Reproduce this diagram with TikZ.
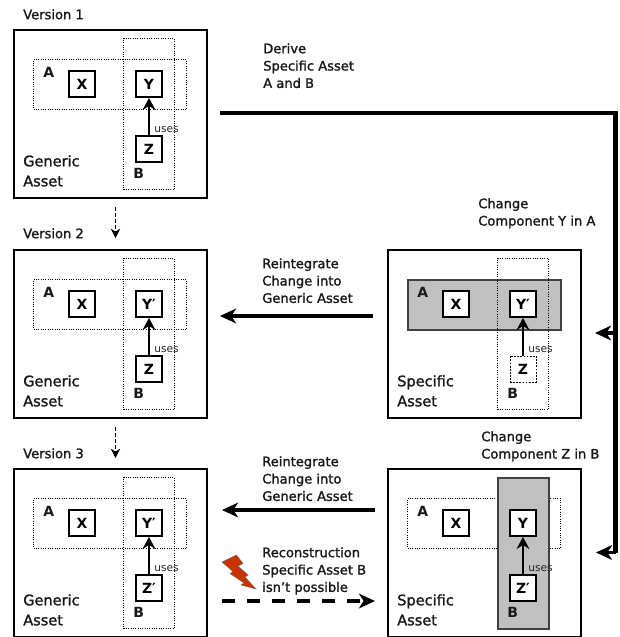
\documentclass[tikz,border=0pt]{standalone}
\usepackage{fontspec}
\setmainfont{DejaVu Sans}
\newfontfamily\medfont[FakeBold=1.5]{DejaVu Sans}
\usetikzlibrary{arrows.meta}
\definecolor{panelgray}{RGB}{192,192,192}
\definecolor{boltred}{RGB}{204,51,0}
\tikzset{
 x=0.75pt,y=-0.75pt,
 txt/.style={font=\medfont\fontsize{9.8}{13}\selectfont,align=left,anchor=north west,inner sep=0pt,text=black!90},
 wordtxt/.style={txt,font=\medfont\fontsize{10.9}{15}\selectfont},
 lettertxt/.style={txt,font=\bfseries\fontsize{10.5}{13}\selectfont},
 smalltxt/.style={font=\fontsize{8}{9}\selectfont,anchor=west,inner sep=0pt,text=black!85},
 panelbox/.style={draw=black,line width=1.5pt,anchor=north west,minimum width=144.75pt,minimum height=126pt,inner sep=0pt},
 dotbox/.style={draw=black,densely dotted,line width=0.75pt},
 greybox/.style={draw=black!75,fill=panelgray,line width=1.2pt},
 compbox/.style={draw=black,fill=white,line width=1.35pt,minimum width=19.5pt,minimum height=19.5pt,inner sep=0pt,font=\bfseries\fontsize{10.5}{13}\selectfont},
 zdot/.style={compbox,draw=black,densely dotted,line width=0.75pt},
 region/.style={anchor=north west,inner sep=0pt},
 uses/.style={-{Stealth[length=9pt,width=9.5pt]},line width=1.9pt},
 bigarrow/.style={-{Stealth[length=12pt,width=11pt,inset=3.5pt]},line width=2.7pt},
 thin dash/.style={-{Stealth[length=7pt,width=7pt]},line width=0.7pt,dash pattern=on 3pt off 1.5pt},
}
% #1 prefix, #2 x, #3 y, #4 Y label, #5 Z label, #6 A style, #7 B style, #8 Z style, #9 word
\newcommand{\assetpanel}[9]{%
 \begin{scope}[shift={(#2,#3)}]
  \node[panelbox] (#1box) at (0,0) {};
  \node[region,#6,minimum width=114.75pt,minimum height=37.5pt] (#1A) at (20,30) {};
  \node[region,#7,minimum width=38.25pt,minimum height=113.25pt] (#1B) at (110,9) {};
  \node[compbox] (#1X) at (69,55) {X};
  \node[compbox] (#1Y) at (136,55) {#4};
  \node[#8] (#1Z) at (136,120) {#5};
  \draw[uses] (#1Z) -- (#1Y);
  \node[smalltxt] (#1u) at (141,101) {uses};
  \node[lettertxt] (#1a) at (30,38) {A};
  \node[lettertxt] (#1b) at (120,139) {B};
  \node[wordtxt] (#1w) at (10,126) {#9\\Asset};
 \end{scope}}
\begin{document}
\begin{tikzpicture}
\useasboundingbox (0,0) rectangle (620,637);
\node[txt] (v1) at (23,9) {Version 1};
\node[txt] (v2) at (23,228) {Version 2};
\node[txt] (v3) at (23,448) {Version 3};
\assetpanel{p}{13}{29}{Y}{Z}{dotbox}{dotbox}{compbox}{Generic}
\assetpanel{q}{13}{249}{Y′}{Z}{dotbox}{dotbox}{compbox}{Generic}
\assetpanel{r}{13}{468}{Y′}{Z′}{dotbox}{dotbox}{compbox}{Generic}
\assetpanel{s}{387}{249}{Y′}{Z}{greybox}{dotbox}{zdot}{Specific}
\assetpanel{t}{387}{468}{Y}{Z′}{dotbox}{greybox}{compbox}{Specific}
\node[txt] (t1) at (263,43) {Derive\\Specific Asset\\A and B};
\node[txt] (t2) at (478,198) {Change\\Component Y in A};
\node[txt] (t3) at (262,258) {Reintegrate\\Change into\\Generic Asset};
\node[txt] (t4) at (481,431) {Change\\Component Z in B};
\node[txt] (t5) at (262,456) {Reintegrate\\Change into\\Generic Asset};
\node[txt] (t6) at (262,547) {Reconstruction\\Specific Asset B\\isn’t possible};
\coordinate (d0) at (220,113);
\coordinate (d1) at (615.5,113);
\coordinate (d2) at (615.5,552.5);
\coordinate (d3) at (615.5,333);
\coordinate (e2) at (596,552.5);
\coordinate (e3) at (595,333);
\draw[line width=3.2pt,line join=miter] (d0) -- (d1) -- (d2);
\draw[bigarrow] (d3) -- (e3);
\draw[bigarrow] (d2) -- (e2);
\coordinate (f1) at (373,316); \coordinate (f2) at (220,316);
\draw[bigarrow] (f1) -- (f2);
\coordinate (g1) at (375,510); \coordinate (g2) at (222,510);
\draw[bigarrow] (g1) -- (g2);
\coordinate (h1) at (222,601); \coordinate (h2) at (375,601);
\draw[bigarrow,dash pattern=on 10pt off 8.75pt] (h1) -- (h2);
\coordinate (i1) at (115.5,207); \coordinate (i2) at (115.5,238);
\draw[thin dash] (i1) -- (i2);
\coordinate (j1) at (115.5,427); \coordinate (j2) at (115.5,458);
\draw[thin dash] (j1) -- (j2);
\fill[boltred,draw=black!60,line width=0.3pt] (236.5,555) -- (222,562) -- (233,571.5) -- (230,573.5) -- (244,583) -- (241,585) -- (256,589) -- (245,577) -- (248,575) -- (238,566) -- (243,563.5) -- cycle;
\end{tikzpicture}
\end{document}
